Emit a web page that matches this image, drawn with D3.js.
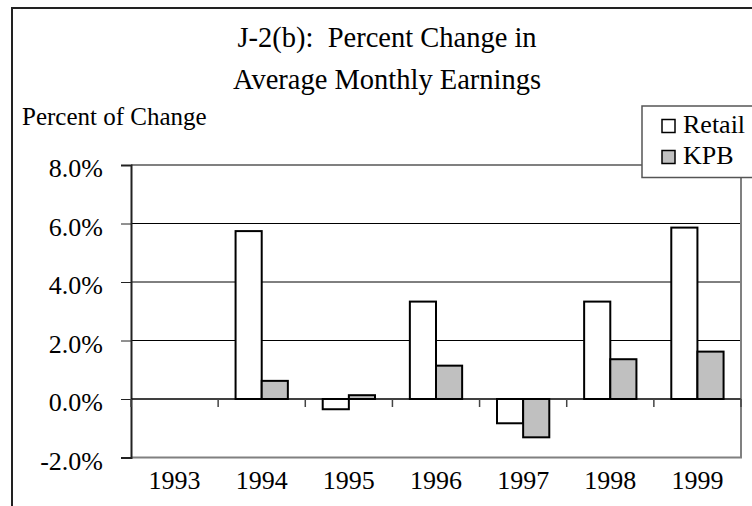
<!DOCTYPE html>
<html>
<head>
<meta charset="utf-8">
<script src="https://cdn.jsdelivr.net/npm/d3@7"></script>
<style>
  html, body { margin: 0; padding: 0; background: #fff; }
  svg { display: block; font-family: "Liberation Serif", "Times New Roman", serif; }
  text { white-space: pre; }
</style>
</head>
<body>
<svg id="chart" width="752" height="506"></svg>
<script>
// Percent change in average monthly earnings, Retail vs KPB
const years = ["1993", "1994", "1995", "1996", "1997", "1998", "1999"];
const retail = [null, 5.74, -0.35, 3.33, -0.83, 3.33, 5.86];
const kpb = [null, 0.62, 0.13, 1.14, -1.31, 1.36, 1.62];
const seriesNames = ["Retail", "KPB"];
const seriesFill = ["#ffffff", "#c0c0c0"];
const yTicks = [-2, 0, 2, 4, 6, 8];
const yTickLabels = ["-2.0%", "0.0%", "2.0%", "4.0%", "6.0%", "8.0%"];
const titleLines = ["J-2(b):  Percent Change in", "Average Monthly Earnings"];
const yAxisTitle = "Percent of Change";

const svg = d3.select("#chart");
const plot = { left: 131, right: 741, top: 165, bottom: 457.5 };

// outer frame (runs off the right and bottom edges)
svg.append("rect")
  .attr("x", 12).attr("y", 8)
  .attr("width", 800).attr("height", 600)
  .attr("fill", "none").attr("stroke", "#222").attr("stroke-width", 2);

// title
svg.append("g").selectAll("text").data(titleLines).join("text")
  .attr("x", 387).attr("y", (d, i) => 47 + i * 41.5)
  .attr("text-anchor", "middle")
  .attr("font-size", 28.5)
  .attr("fill", "#000")
  .attr("xml:space", "preserve")
  .text(d => d);

svg.append("text")
  .attr("x", 22).attr("y", 125)
  .attr("font-size", 25)
  .attr("fill", "#000")
  .text(yAxisTitle);

const x = d3.scaleBand().domain(years).range([plot.left, plot.right]).paddingInner(0).paddingOuter(0);
const xs = d3.scaleBand().domain(seriesNames)
  .range([x.bandwidth() * 0.2, x.bandwidth() * 0.8]);
const y = d3.scaleLinear().domain([-2, 8]).range([plot.bottom, plot.top]);

// gridlines
svg.append("g").selectAll("line").data(yTicks.filter(v => v > -2 && v < 8)).join("line")
  .attr("x1", plot.left).attr("x2", plot.right)
  .attr("y1", d => y(d)).attr("y2", d => y(d))
  .attr("stroke", "#000").attr("stroke-width", 1);

// plot border (top, right, bottom)
svg.append("path")
  .attr("d", `M${plot.left},${y(8)}H${plot.right}V${y(-2)}H${plot.left}`)
  .attr("fill", "none").attr("stroke", "#808080").attr("stroke-width", 2);

// y axis
const yAxis = d3.axisLeft(y).tickValues(yTicks)
  .tickFormat((d, i) => yTickLabels[i]).tickSize(10).tickPadding(18);
const gy = svg.append("g").attr("transform", `translate(${plot.left},0)`).call(yAxis);
gy.select(".domain").attr("stroke", "#222").attr("stroke-width", 2);
gy.selectAll(".tick line").attr("stroke", "#222").attr("stroke-width", 1);
gy.selectAll(".tick text")
  .attr("font-family", "Liberation Serif, Times New Roman, serif")
  .attr("font-size", 26).attr("fill", "#000").attr("dy", "0.45em");

// x axis along zero line, ticks at category boundaries
const gx = svg.append("g").attr("transform", `translate(0,${y(0)})`);
gx.append("line").attr("x1", plot.left).attr("x2", plot.right)
  .attr("stroke", "#000").attr("stroke-width", 1);
const bounds = years.map(d => x(d)).concat([plot.right]);
gx.selectAll("line.tk").data(bounds).join("line").attr("class", "tk")
  .attr("x1", d => d).attr("x2", d => d).attr("y1", 0).attr("y2", 8)
  .attr("stroke", "#444").attr("stroke-width", 1.5);

// category labels
svg.append("g").selectAll("text").data(years).join("text")
  .attr("x", d => x(d) + x.bandwidth() / 2).attr("y", 489)
  .attr("text-anchor", "middle").attr("font-size", 26).attr("fill", "#000")
  .text(d => d);

// bars
const seriesValues = [retail, kpb];
seriesNames.forEach((name, si) => {
  const data = years.map((yr, i) => ({ yr, v: seriesValues[si][i] })).filter(d => d.v !== null);
  svg.append("g").selectAll("rect").data(data).join("rect")
    .attr("x", d => x(d.yr) + xs(name))
    .attr("width", xs.bandwidth())
    .attr("y", d => y(Math.max(0, d.v)))
    .attr("height", d => Math.abs(y(d.v) - y(0)))
    .attr("fill", seriesFill[si])
    .attr("stroke", "#000").attr("stroke-width", 2);
});

// legend
const lg = svg.append("g");
lg.append("rect").attr("x", 642).attr("y", 106).attr("width", 140).attr("height", 71.5)
  .attr("fill", "#fff").attr("stroke", "#555").attr("stroke-width", 1.5);
seriesNames.forEach((name, i) => {
  lg.append("rect").attr("x", 662).attr("y", 119.5 + i * 31).attr("width", 13).attr("height", 13)
    .attr("fill", seriesFill[i]).attr("stroke", "#000").attr("stroke-width", 1.5);
  lg.append("text").attr("x", 683).attr("y", 133 + i * 31)
    .attr("font-size", 26).attr("fill", "#000").text(name);
});
</script>
</body>
</html>
